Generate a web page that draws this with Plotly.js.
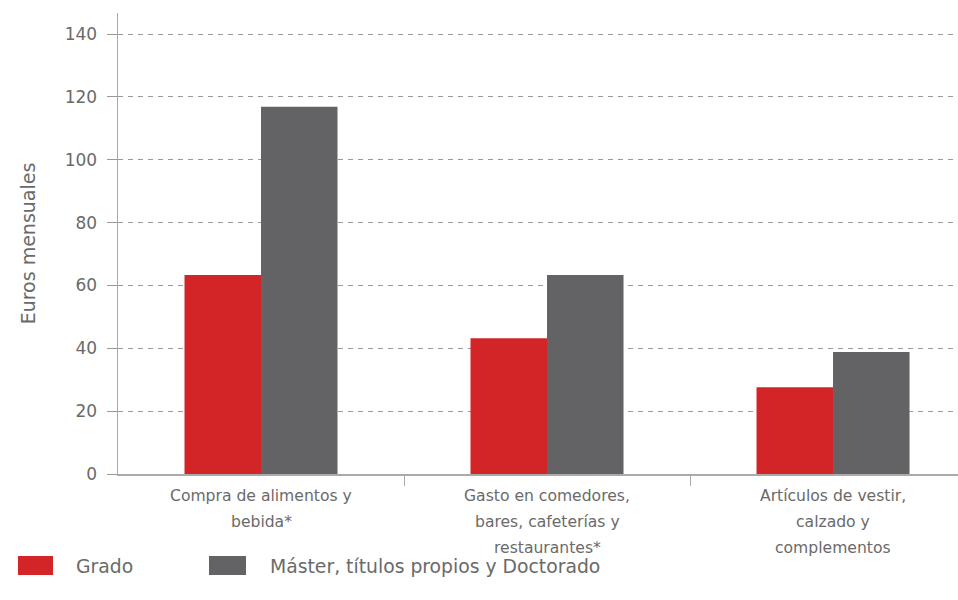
<!DOCTYPE html>
<html>
<head>
<meta charset="utf-8">
<script src="https://cdn.plot.ly/plotly-3.0.1.min.js"></script>
<style>html,body{margin:0;padding:0;background:#fff}#chart{width:958px;height:600px}</style>
</head>
<body>
<div id="chart"></div>
<script>
// ---- data ----
const categories = [
  ["Compra de alimentos y", "bebida*"],
  ["Gasto en comedores,", "bares, cafeterías y", "restaurantes*"],
  ["Artículos de vestir,", "calzado y", "complementos"]
];
const seriesNames = ["Grado", "Máster, títulos propios y Doctorado"];
const grado = [63.3, 43.2, 27.6];
const master = [116.9, 63.3, 38.8];
const yTicks = [0, 20, 40, 60, 80, 100, 120, 140];
const yTitle = "Euros mensuales";

// ---- styles ----
const colors = ["#d32428", "#636365"];
const textColor = "#6a6a6a";
const font = "DejaVu Sans, sans-serif";
const xIdx = categories.map((c, i) => i);

const traces = [grado, master].map((vals, k) => ({
  type: "bar",
  x: xIdx,
  y: vals,
  name: seriesNames[k],
  marker: { color: colors[k], line: { width: 0 } },
  showlegend: false,
  hoverinfo: "skip"
}));

const annotations = [];
categories.forEach((lines, i) => {
  lines.forEach((ln, j) => {
    annotations.push({
      xref: "x", yref: "paper", x: i, y: 0,
      yanchor: "middle", xanchor: "center",
      yshift: -22 - 26 * j,
      text: ln, showarrow: false,
      font: { family: font, size: 15.6, color: textColor }
    });
  });
});

// custom legend
const legPos = [{ sx0: 18, sx1: 53, tx: 74 }, { sx0: 209, sx1: 246, tx: 268 }];
const shapes = [];
seriesNames.forEach((nm, k) => {
  shapes.push({
    type: "rect", xref: "paper", yref: "paper",
    x0: (legPos[k].sx0 - 118) / 840, x1: (legPos[k].sx1 - 118) / 840,
    y0: -(575 - 474) / 461, y1: -(556 - 474) / 461,
    fillcolor: colors[k], line: { width: 0 }
  });
  annotations.push({
    xref: "paper", yref: "paper",
    x: (legPos[k].tx - 118) / 840, y: -(566 - 474) / 461,
    xanchor: "left", yanchor: "middle",
    text: nm, showarrow: false,
    font: { family: font, size: 18.8, color: textColor }
  });
});

const layout = {
  width: 958, height: 600,
  margin: { l: 118, r: 0, t: 13, b: 126 },
  paper_bgcolor: "#fff", plot_bgcolor: "#fff",
  barmode: "group", bargap: 0.465, bargroupgap: 0,
  font: { family: font, color: textColor },
  xaxis: {
    type: "linear", range: [-0.5, 2.437],
    showgrid: false, zeroline: false,
    showline: true, linecolor: "#aaaaaa", linewidth: 1.5,
    tickvals: [0.5, 1.5], ticktext: ["", ""],
    ticks: "outside", ticklen: 10, tickcolor: "#aaaaaa", tickwidth: 1,
    fixedrange: true
  },
  yaxis: {
    range: [0, 146.7],
    tickvals: yTicks,
    ticks: "outside", ticklen: 10, tickcolor: "#999999", tickwidth: 1,
    ticklabelstandoff: 6,
    tickfont: { family: font, size: 17, color: textColor },
    showgrid: true, gridcolor: "#9a9a9a", griddash: "5px,5px", gridwidth: 1,
    zeroline: false,
    showline: true, linecolor: "#aaaaaa", linewidth: 1.5,
    title: { text: yTitle, font: { family: font, size: 19, color: textColor }, standoff: 24 },
    automargin: false,
    fixedrange: true
  },
  shapes: shapes,
  annotations: annotations,
  showlegend: false
};

Plotly.newPlot("chart", traces, layout, { displayModeBar: false, staticPlot: true });
</script>
</body>
</html>
